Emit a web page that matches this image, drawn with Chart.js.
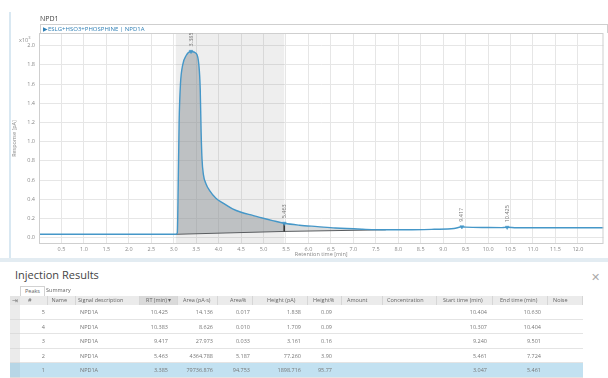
<!DOCTYPE html>
<html>
<head>
<meta charset="utf-8">
<script src="https://cdn.jsdelivr.net/npm/chart.js@4.4.1/dist/chart.umd.min.js"></script>
<style>
  html, body { margin: 0; padding: 0; background: #fff; width: 608px; height: 378px; overflow: hidden; font-family: "Open Sans", sans-serif; }
  .abs { position: absolute; white-space: nowrap; }
  #chartCanvas { position: absolute; left: 0; top: 0; }
  #leftRule { left: 9px; top: 12px; width: 2px; height: 250px; background: #d9e8f2; }
  #sepStrip { left: 0; top: 258px; width: 608px; height: 4px; background: #e3ecf2; }
  #signalName { left: 40px; top: 14px; font-size: 7px; color: #444; line-height: 9px; }
  #signalBar { left: 40px; top: 24px; width: 564px; height: 8px; border: 1px solid #cfcfcf; border-bottom: none; background: #fff; font-size: 6px; line-height: 8px; color: #2f7fb5; padding-left: 2px; box-sizing: content-box; }
  #scaleNote { left: 19px; top: 34px; font-size: 5.5px; color: #888; line-height: 7px; }
  #scaleNote sup { font-size: 4px; vertical-align: 3px; }
  #resultsTitle { left: 15px; top: 267px; font-size: 11px; color: #444; line-height: 15px; }
  #closeX { left: 591px; top: 270px; font-size: 11px; color: #aaa; line-height: 14px; }
  .tab { top: 286px; height: 9px; font-size: 5.5px; line-height: 9px; color: #666; }
  #tabPeaks { left: 20px; width: 23px; border: 1px solid #d2d2d2; border-bottom: none; text-align: center; background: #fff; height: 9px; top: 286px; }
  .cell { font-size: 5.5px; color: #777; overflow: hidden; }
  .hcell { font-size: 5.5px; color: #666; background: #ebebeb; border-right: 1px solid #d6d6d6; box-sizing: border-box; overflow: hidden; }
</style>
</head>
<body>
<canvas id="chartCanvas" width="608" height="258"></canvas>
<div id="leftRule" class="abs"></div>
<div id="sepStrip" class="abs"></div>
<div id="signalName" class="abs">NPD1</div>
<div id="signalBar" class="abs">▶ESLG+HSO3+PHOSPHINE | NPD1A</div>
<div id="scaleNote" class="abs">x10<sup>3</sup></div>
<div id="resultsTitle" class="abs">Injection Results</div>
<div id="closeX" class="abs">✕</div>
<div id="tabPeaks" class="abs tab">Peaks</div>
<div class="abs tab" style="left:46px;">Summary</div>
<div id="table"></div>

<script>
// NPD1A chromatogram trace (response in units of 10^3 pA)
const retentionTime = [0.00, 1.00, 2.00, 3.00, 3.047, 3.08, 3.10, 3.12, 3.15, 3.20, 3.28, 3.385, 3.50, 3.56, 3.59, 3.61, 3.63, 3.66, 3.72, 3.80, 3.94, 4.10, 4.31, 4.50, 4.76, 4.97, 5.20, 5.461, 5.80, 6.20, 6.60, 7.20, 7.724, 8.20, 8.80, 9.24, 9.417, 9.501, 10.00, 10.307, 10.383, 10.404, 10.425, 10.63, 11.50, 12.57];
const response      = [0.035, 0.035, 0.035, 0.035, 0.035, 0.05, 0.55, 1.20, 1.60, 1.80, 1.90, 1.94, 1.92, 1.80, 1.55, 1.10, 0.82, 0.66, 0.56, 0.49, 0.41, 0.36, 0.30, 0.265, 0.232, 0.205, 0.178, 0.15, 0.13, 0.115, 0.10, 0.088, 0.082, 0.082, 0.087, 0.095, 0.113, 0.110, 0.106, 0.105, 0.107, 0.106, 0.108, 0.104, 0.103, 0.103];

// Integration baselines of the two main peaks
const integrationStart = [3.047, 5.461];
const integrationEnd   = [5.461, 7.724];
const baselineAtStart  = [0.035, 0.065];
const baselineAtEnd    = [0.065, 0.082];

// Peak apex labels drawn on the trace
const labelledRT = [3.385, 5.463, 9.417, 10.425];
const labelText  = ['3.385', '5.463', '9.417', '10.425'];

// Axis ticks
const xTicks = [0.5, 1.0, 1.5, 2.0, 2.5, 3.0, 3.5, 4.0, 4.5, 5.0, 5.5, 6.0, 6.5, 7.0, 7.5, 8.0, 8.5, 9.0, 9.5, 10.0, 10.5, 11.0, 11.5, 12.0];
const yTicks = [0.0, 0.2, 0.4, 0.6, 0.8, 1.0, 1.2, 1.4, 1.6, 1.8, 2.0];

// Peak table (sorted by RT, descending)
const peakNo     = ['5', '4', '3', '2', '1'];
const signalDesc = ['NPD1A', 'NPD1A', 'NPD1A', 'NPD1A', 'NPD1A'];
const rtMin      = ['10.425', '10.383', '9.417', '5.463', '3.385'];
const areaPAs    = ['14.136', '8.626', '27.973', '4364.788', '79736.876'];
const areaPct    = ['0.017', '0.010', '0.033', '5.187', '94.753'];
const heightPA   = ['1.838', '1.709', '3.161', '77.260', '1898.716'];
const heightPct  = ['0.09', '0.09', '0.16', '3.90', '95.77'];
const startMin   = ['10.404', '10.307', '9.240', '5.461', '3.047'];
const endMin     = ['10.630', '10.404', '9.501', '7.724', '5.461'];

const trace = retentionTime.map((t, i) => ({ x: t, y: response[i] }));
function responseAt(t) {
  let best = 0;
  retentionTime.forEach((v, i) => { if (Math.abs(v - t) < Math.abs(retentionTime[best] - t)) best = i; });
  return response[best];
}
const sliceTrace = (a, b) => trace.filter(p => p.x >= a - 1e-9 && p.x <= b + 1e-9);

const BLUE = '#4597c8';
const datasets = [];
// peak areas (index 0,1) filled to their baselines (index 2,3)
integrationStart.forEach((s, k) => {
  datasets.push({
    data: sliceTrace(s, integrationEnd[k]),
    borderWidth: 0, pointRadius: 0, cubicInterpolationMode: 'monotone',
    fill: 2 + k, backgroundColor: k === 0 ? 'rgba(150,154,158,0.55)' : 'rgba(150,154,158,0.35)',
    order: 5
  });
});
integrationStart.forEach((s, k) => {
  datasets.push({
    data: [{ x: s, y: baselineAtStart[k] }, { x: integrationEnd[k], y: baselineAtEnd[k] }],
    borderColor: '#5a5d60', borderWidth: 1, pointRadius: 0, fill: false, order: 4
  });
});
// drop line between peak 1 and peak 2
datasets.push({
  data: [{ x: integrationEnd[0], y: responseAt(integrationEnd[0]) }, { x: integrationEnd[0], y: baselineAtEnd[0] }],
  borderColor: '#333', borderWidth: 1, pointRadius: 0, fill: false, order: 3
});
// detector signal
datasets.push({
  data: trace, borderColor: BLUE, borderWidth: 1.4, pointRadius: 0,
  cubicInterpolationMode: 'monotone', fill: false, order: 1
});
// apex markers
datasets.push({
  data: labelledRT.map(t => ({ x: t, y: responseAt(t) })),
  showLine: false, pointStyle: 'triangle', rotation: 180, pointRadius: 2.2,
  backgroundColor: BLUE, borderColor: BLUE, borderWidth: 0.5, order: 0
});

const framePlugin = {
  id: 'frame',
  beforeDatasetsDraw(chart) {
    const { ctx, chartArea: a, scales: { x } } = chart;
    ctx.save();
    // integration window of the main peak
    const x0 = x.getPixelForValue(integrationStart[0]);
    const x1 = x.getPixelForValue(integrationEnd[0]);
    ctx.fillStyle = 'rgba(120,120,120,0.13)';
    ctx.fillRect(x0, a.top, x1 - x0, a.bottom - a.top);
    ctx.restore();
  },
  afterDatasetsDraw(chart) {
    const { ctx, chartArea: a, scales: { x, y } } = chart;
    ctx.save();
    ctx.strokeStyle = '#cfcfcf';
    ctx.lineWidth = 1;
    ctx.strokeRect(a.left + 0.5, a.top + 0.5, a.right - a.left - 1, a.bottom - a.top - 1);
    ctx.fillStyle = '#777';
    ctx.font = '5.5px "Open Sans"';
    ctx.textAlign = 'left';
    ctx.textBaseline = 'middle';
    labelledRT.forEach((t, i) => {
      const px = x.getPixelForValue(t);
      const py = y.getPixelForValue(responseAt(t));
      ctx.save();
      ctx.translate(px, py - 5);
      ctx.rotate(-Math.PI / 2);
      ctx.fillText(labelText[i], 0, 0);
      ctx.restore();
    });
    ctx.restore();
  }
};

new Chart(document.getElementById('chartCanvas'), {
  type: 'line',
  data: { datasets },
  plugins: [framePlugin],
  options: {
    responsive: false, animation: false, devicePixelRatio: 1,
    layout: { padding: { left: 11, top: 33, right: 3, bottom: 0 } },
    plugins: { legend: { display: false }, tooltip: { enabled: false } },
    elements: { line: { tension: 0 } },
    scales: {
      x: {
        type: 'linear', min: 0, max: 12.57,
        afterBuildTicks: s => { s.ticks = xTicks.map(v => ({ value: v })); },
        afterFit: s => { s.height = 14; },
        ticks: { font: { size: 5.5, family: 'Open Sans' }, color: '#888', padding: 2, maxRotation: 0, autoSkip: false, callback: v => v.toFixed(1) },
        grid: { color: '#e6e6e6', drawTicks: false },
        border: { display: false },
        title: { display: true, text: 'Retention time [min]', font: { size: 5.5, family: 'Open Sans' }, color: '#888', padding: 0 }
      },
      y: {
        type: 'linear', min: -0.066, max: 2.132,
        afterBuildTicks: s => { s.ticks = yTicks.map(v => ({ value: v })); },
        afterFit: s => { s.width = 28; },
        ticks: { font: { size: 5.5, family: 'Open Sans' }, color: '#888', padding: 4, callback: v => v.toFixed(1) },
        grid: { color: '#e6e6e6', drawTicks: false },
        border: { display: false },
        title: { display: true, text: 'Response [pA]', font: { size: 5.5, family: 'Open Sans' }, color: '#888', padding: 0 }
      }
    }
  }
});

// ---- peak results table ----
const columns = [
  { head: '#',                  l: 20,  r: 48,  hx: 8,  ha: 'left',  data: peakNo,     va: 'right', vx: 3 },
  { head: 'Name',               l: 48,  r: 76,  hx: 8,  ha: 'right' },
  { head: 'Signal description', l: 76,  r: 140, hx: 2,  ha: 'left',  data: signalDesc, va: 'left',  vx: 4 },
  { head: 'RT (min) ▾',         l: 140, r: 178, hx: 6,  ha: 'left',  data: rtMin,      va: 'right', vx: 10, sorted: true },
  { head: 'Area (pA·s)',        l: 178, r: 218, hx: 5,  ha: 'left',  data: areaPAs,    va: 'right', vx: 5 },
  { head: 'Area%',              l: 218, r: 253, hx: 12, ha: 'left',  data: areaPct,    va: 'right', vx: 3 },
  { head: 'Height (pA)',        l: 253, r: 308, hx: 14, ha: 'left',  data: heightPA,   va: 'right', vx: 7 },
  { head: 'Height%',            l: 308, r: 342, hx: 5,  ha: 'left',  data: heightPct,  va: 'right', vx: 10 },
  { head: 'Amount',             l: 342, r: 383, hx: 5,  ha: 'left' },
  { head: 'Concentration',      l: 383, r: 437, hx: 4,  ha: 'left' },
  { head: 'Start time (min)',   l: 437, r: 493, hx: 6,  ha: 'left',  data: startMin,   va: 'right', vx: 6 },
  { head: 'End time (min)',     l: 493, r: 548, hx: 7,  ha: 'left',  data: endMin,     va: 'right', vx: 7 },
  { head: 'Noise',              l: 548, r: 583, hx: 5,  ha: 'left' }
];
const tbl = document.getElementById('table');
const HEAD_TOP = 296, HEAD_H = 9, ROW_H = 14.5, TABLE_L = 20, TABLE_R = 583;
function box(style, text, cls) {
  const d = document.createElement('div');
  d.className = 'abs ' + (cls || '');
  Object.assign(d.style, style);
  if (text !== undefined) d.textContent = text;
  tbl.appendChild(d);
  return d;
}
// gutter column
box({ left: '10px', top: HEAD_TOP + 'px', width: '10px', height: HEAD_H + 'px', background: '#e4e4e4', fontSize: '7px', lineHeight: HEAD_H + 'px', color: '#777', textAlign: 'center' }, '⇥');
peakNo.forEach((_, i) => {
  const top = HEAD_TOP + HEAD_H + i * ROW_H;
  box({ left: '10px', top: top + 'px', width: '10px', height: ROW_H + 'px', background: i === peakNo.length - 1 ? '#b7d6e6' : '#ebebeb', borderBottom: '1px solid #dcdcdc', boxSizing: 'border-box' });
  box({ left: TABLE_L + 'px', top: top + 'px', width: (TABLE_R - TABLE_L) + 'px', height: ROW_H + 'px', background: i === peakNo.length - 1 ? '#c2e1f1' : '#fff', borderBottom: '1px solid #e4e4e4', boxSizing: 'border-box' });
});
columns.forEach(c => {
  const h = box({ left: c.l + 'px', top: HEAD_TOP + 'px', width: (c.r - c.l) + 'px', height: HEAD_H + 'px', lineHeight: HEAD_H + 'px', textAlign: c.ha, background: c.sorted ? '#dadada' : '#ebebeb' }, c.head, 'hcell');
  if (c.ha === 'right') h.style.paddingRight = c.hx + 'px'; else h.style.paddingLeft = c.hx + 'px';
  if (!c.data) return;
  c.data.forEach((v, i) => {
    const top = HEAD_TOP + HEAD_H + i * ROW_H;
    const d = box({ left: c.l + 'px', top: top + 'px', width: (c.r - c.l) + 'px', height: ROW_H + 'px', lineHeight: ROW_H + 'px', textAlign: c.va, boxSizing: 'border-box' }, v, 'cell');
    if (c.va === 'right') d.style.paddingRight = c.vx + 'px'; else d.style.paddingLeft = c.vx + 'px';
  });
});
</script>
</body>
</html>
